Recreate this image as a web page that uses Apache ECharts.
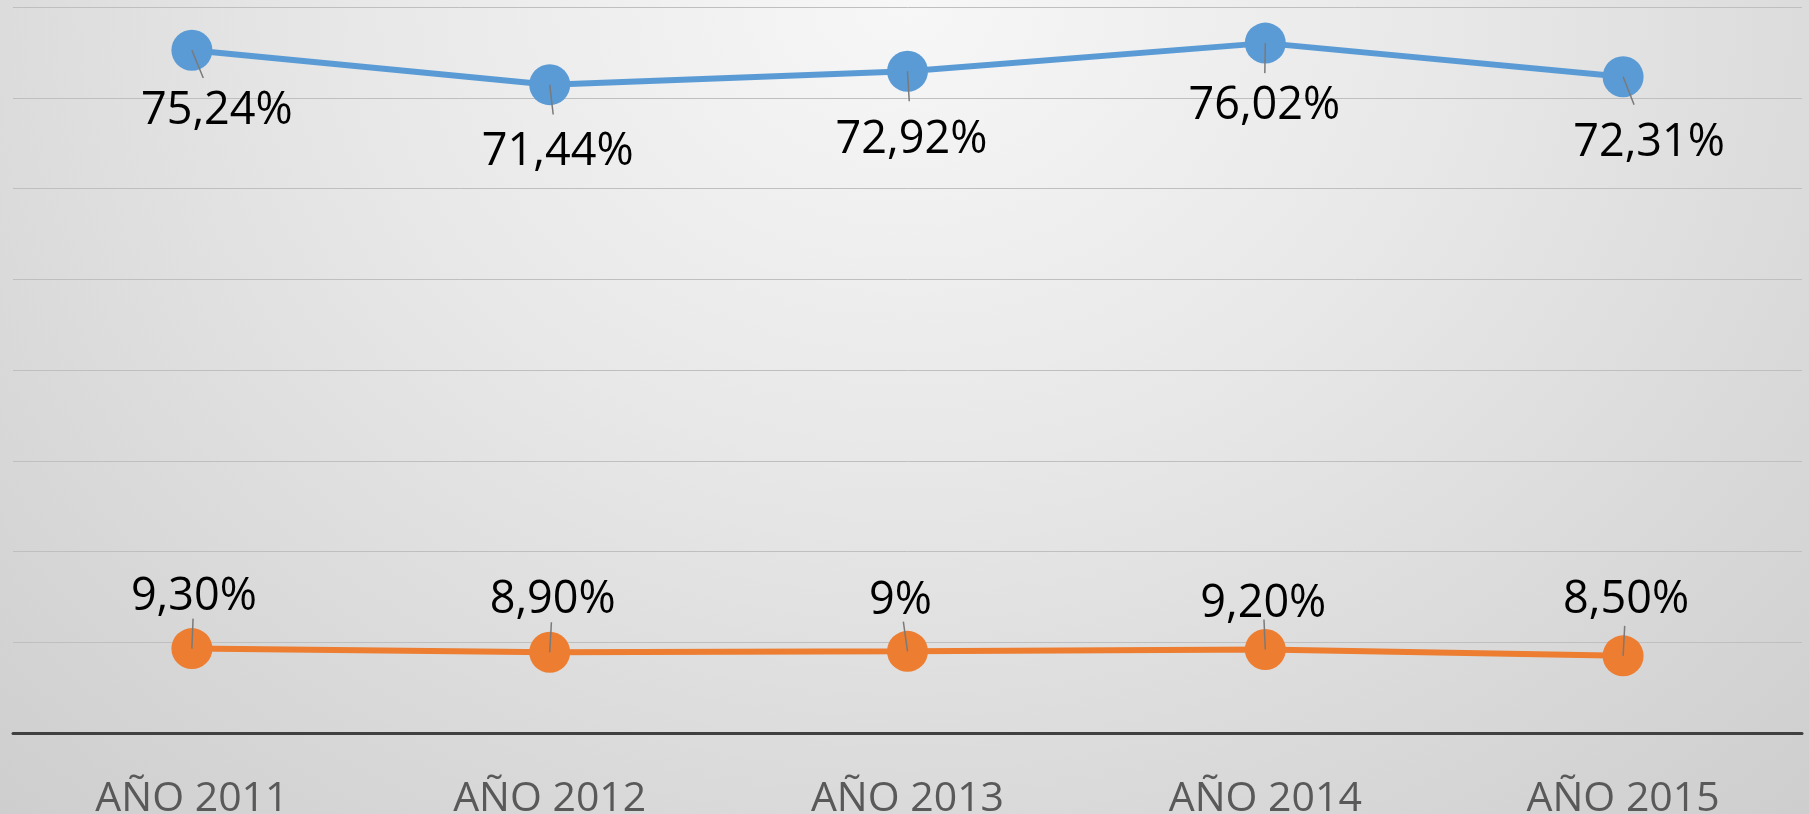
<!DOCTYPE html>
<html lang="es">

<head>
    <meta charset="UTF-8">
    <title>Porcentajes por año</title>
    <script src="https://cdn.jsdelivr.net/npm/echarts@6/dist/echarts.min.js"></script>
    <style>
        html, body { margin: 0; padding: 0; }
        body {
            width: 1809px; height: 814px; overflow: hidden;
            background: radial-gradient(ellipse 75% 140% at 50% 0%, #f7f7f7 0%, #e8e8e8 40%, #d8d8d8 75%, #cdcdcd 100%);
        }
        #container { width: 1809px; height: 814px; }
    </style>
</head>

<body>
    <div id="container"></div>
    <script type="text/javascript">
        // data
        var years = ['AÑO 2011', 'AÑO 2012', 'AÑO 2013', 'AÑO 2014', 'AÑO 2015'];
        var serieAzul = [75.24, 71.44, 72.92, 76.02, 72.31];
        var serieNaranja = [9.30, 8.90, 9.00, 9.20, 8.50];
        var etiquetasAzul = ['75,24%', '71,44%', '72,92%', '76,02%', '72,31%'];
        var etiquetasNaranja = ['9,30%', '8,90%', '9%', '9,20%', '8,50%'];

        // where each data label sits relative to its point (px)
        var offAzul = [[25, 61], [8, 68], [4, 69], [-1, 63], [26, 66]];
        var offNaranja = [[2, -51], [3, -52], [-7, -50], [-2, -45], [3, -56]];

        var azul = '#5b9bd5';
        var naranja = '#ed7d31';
        var fuente = '"Open Sans", sans-serif';

        function puntos(values, texts, offs) {
            return values.map(function (v, i) {
                return {
                    value: v,
                    label: { offset: offs[i], formatter: texts[i] }
                };
            });
        }

        // short grey leader from each point towards its label
        function guias(offs) {
            return function (params, api) {
                var p = api.coord([api.value(0), api.value(1)]);
                var o = offs[params.dataIndex];
                var len = Math.sqrt(o[0] * o[0] + o[1] * o[1]);
                var l = 30;
                return {
                    type: 'line',
                    shape: { x1: p[0], y1: p[1], x2: p[0] + o[0] / len * l, y2: p[1] + o[1] / len * l },
                    style: { stroke: '#7a7a7a', lineWidth: 1.5 }
                };
            };
        }

        var etiqueta = {
            show: true,
            position: 'inside',
            color: '#000',
            fontFamily: fuente,
            fontSize: 45
        };

        var myChart = echarts.init(document.getElementById('container'), null, { renderer: 'canvas' });

        var option = {
            backgroundColor: 'transparent',
            animation: false,
            grid: { left: 13, right: 7, top: 7, bottom: 81, outerBoundsMode: 'none', containLabel: false },
            xAxis: {
                type: 'category',
                data: years,
                boundaryGap: true,
                axisTick: { show: false },
                axisLine: { lineStyle: { color: '#404040', width: 3 } },
                axisLabel: { color: '#595959', fontFamily: fuente, fontSize: 41, margin: 46 }
            },
            yAxis: {
                type: 'value',
                min: 0,
                max: 80,
                interval: 10,
                axisLabel: { show: false },
                axisLine: { show: false },
                axisTick: { show: false },
                splitLine: { lineStyle: { color: '#bfbfbf', width: 1 } }
            },
            series: [
                {
                    name: 'azul',
                    type: 'line',
                    data: puntos(serieAzul, etiquetasAzul, offAzul),
                    symbol: 'circle',
                    symbolSize: 41,
                    itemStyle: { color: azul },
                    lineStyle: { color: azul, width: 6 },
                    label: etiqueta,
                    z: 3
                },
                {
                    name: 'naranja',
                    type: 'line',
                    data: puntos(serieNaranja, etiquetasNaranja, offNaranja),
                    symbol: 'circle',
                    symbolSize: 41,
                    itemStyle: { color: naranja },
                    lineStyle: { color: naranja, width: 6 },
                    label: etiqueta,
                    z: 3
                },
                {
                    type: 'custom',
                    renderItem: guias(offAzul),
                    data: serieAzul.map(function (v, i) { return [i, v]; }),
                    z: 5,
                    silent: true
                },
                {
                    type: 'custom',
                    renderItem: guias(offNaranja),
                    data: serieNaranja.map(function (v, i) { return [i, v]; }),
                    z: 5,
                    silent: true
                }
            ]
        };

        myChart.setOption(option);
        window.addEventListener('resize', myChart.resize);
    </script>
</body>

</html>
